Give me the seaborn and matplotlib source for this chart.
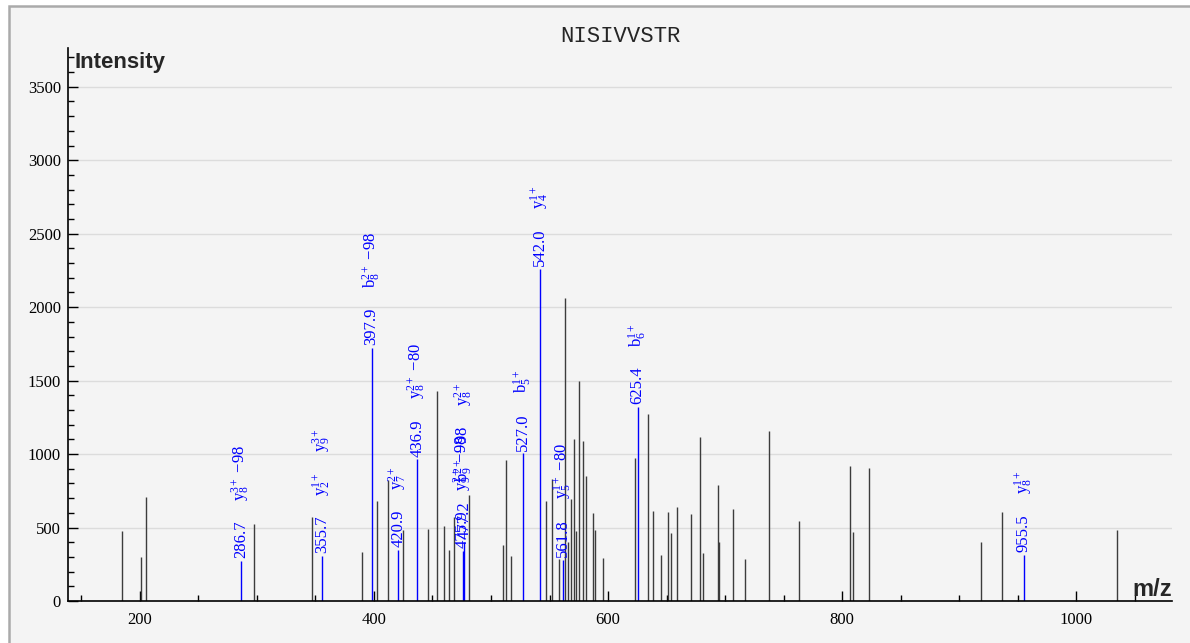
import matplotlib
matplotlib.use("Agg")
import matplotlib.pyplot as plt
import seaborn as sns
from matplotlib.patches import Rectangle
from matplotlib.ticker import MultipleLocator

# Unassigned peaks (m/z, intensity)
peak_mz = [184.9, 200.6, 204.9, 297.7, 346.7, 389.5, 402.8, 411.7, 424.8, 446.4,
           454.1, 460.1, 464.4, 468.7, 481.0, 510.0, 513.1, 517.1, 547.0, 552.4,
           558.4, 563.5, 565.8, 568.1, 570.7, 572.9, 574.9, 578.9, 581.5, 587.0,
           589.2, 595.5, 623.1, 634.2, 638.2, 645.6, 651.3, 654.2, 658.7, 670.8,
           678.2, 681.2, 693.7, 695.1, 706.6, 716.8, 737.3, 763.5, 806.8, 809.4,
           823.3, 918.8, 936.8, 1035.0]
peak_int = [479, 302, 706, 524, 574, 331, 683, 824, 483, 488,
            1432, 510, 345, 570, 720, 381, 962, 306, 683, 828,
            284, 2060, 400, 692, 1105, 479, 1500, 1091, 851, 597,
            483, 291, 971, 1275, 613, 313, 605, 465, 641, 589,
            1117, 324, 792, 404, 629, 288, 1155, 543, 917, 470,
            903, 400, 606, 483]

# Assigned fragment peaks
ion_mz = [286.7, 355.7, 397.9, 420.9, 436.9, 475.9, 477.2, 527.0, 542.0, 561.8, 625.4, 955.5]
ion_int = [272, 306, 1724, 347, 964, 340, 400, 1005, 2258, 279, 1320, 315]
ion_text = ["286.7", "355.7", "397.9", "420.9", "436.9", "475.9", "477.2",
            "527.0", "542.0", "561.8", "625.4", "955.5"]
ion_names = [
    ["y$_8^{3+}$ \u221298"],
    ["y$_2^{1+}$", "y$_9^{3+}$"],
    ["b$_8^{2+}$ \u221298"],
    ["y$_7^{2+}$"],
    ["y$_8^{2+}$ \u221280"],
    ["y$_9^{2+}$ \u221298"],
    ["b$_9^{2+}$ \u221298", "y$_8^{2+}$"],
    ["b$_5^{1+}$"],
    ["y$_4^{1+}$"],
    ["y$_5^{1+}$ \u221280"],
    ["b$_6^{1+}$"],
    ["y$_8^{1+}$"],
]

peptide = "NISIVVSTR"

sns.set_style("white")
plt.rcParams["font.family"] = ["Liberation Serif", "DejaVu Serif"]
plt.rcParams["mathtext.fontset"] = "custom"
plt.rcParams["mathtext.rm"] = "Liberation Serif"
plt.rcParams["mathtext.it"] = "Liberation Serif:italic"
plt.rcParams["mathtext.bf"] = "Liberation Serif:bold"
plt.rcParams["mathtext.default"] = "rm"

W, H = 1190, 643
fig = plt.figure(figsize=(W / 100, H / 100), dpi=100, facecolor="white")
fig.add_artist(Rectangle((8.5 / W, -0.1), 1.2, 1.1 - 6.5 / H, transform=fig.transFigure,
                         facecolor="#f4f4f4", edgecolor="#aaaaaa", lw=1.8, zorder=-10))

ax = fig.add_axes([68 / W, 1 - 601 / H, (1172 - 68) / W, (601 - 48) / H])
ax.set_facecolor("none")

ax.vlines(peak_mz, 0, peak_int, color="#3c3c3c", lw=1)
ax.vlines(ion_mz, 0, ion_int, color="#0000ff", lw=1)

ax.set_xlim(138.5, 1082)
ax.set_ylim(0, 3764)

sns.despine(ax=ax)
for side in ["left", "bottom"]:
    ax.spines[side].set_color("black")
    ax.spines[side].set_linewidth(1.2)

ax.xaxis.set_major_locator(MultipleLocator(200))
ax.xaxis.set_minor_locator(MultipleLocator(50))
ax.yaxis.set_major_locator(MultipleLocator(500))
ax.yaxis.set_minor_locator(MultipleLocator(100))
ax.tick_params(which="major", direction="in", length=7.2, width=1, colors="black", labelsize=12)
ax.tick_params(which="minor", direction="in", length=4.3, width=1, colors="black")
ax.tick_params(axis="y", which="both", left=True, pad=5)
ax.tick_params(axis="x", which="both", bottom=True, pad=8)
ax.yaxis.grid(True, color="#dcdcdc", lw=1)
ax.set_axisbelow(True)

fig.text(620 / W, 1 - 36 / H, peptide, ha="center", va="center",
         family="Liberation Mono", fontsize=16)
fig.text(74 / W, 1 - 52 / H, "Intensity", ha="left", va="top",
         family="Liberation Sans", weight="bold", fontsize=16)
fig.text(1172 / W, 1 - 596 / H, "m/z", ha="right", va="baseline",
         family="Liberation Sans", weight="bold", fontsize=17)

# m/z labels just above each assigned peak, ion names stacked above
num_labels = []
for mz, h, txt in zip(ion_mz, ion_int, ion_text):
    t = ax.annotate(txt, (mz, h), xytext=(0, 2), textcoords="offset points",
                    rotation=90, ha="center", va="bottom", color="#0000ff", fontsize=12)
    num_labels.append(t)

renderer = fig.canvas.get_renderer()
px2pt = 72 / fig.dpi
gap = 20
for t, mz, h, names in zip(num_labels, ion_mz, ion_int, ion_names):
    off = 2 + (t.get_window_extent(renderer).height + gap) * px2pt
    for name in names:
        n = ax.annotate(name, (mz, h), xytext=(0, off), textcoords="offset points",
                        rotation=90, ha="center", va="bottom", color="#0000ff", fontsize=12)
        off += (n.get_window_extent(renderer).height + gap) * px2pt

fig.savefig("out.png", dpi=100)
